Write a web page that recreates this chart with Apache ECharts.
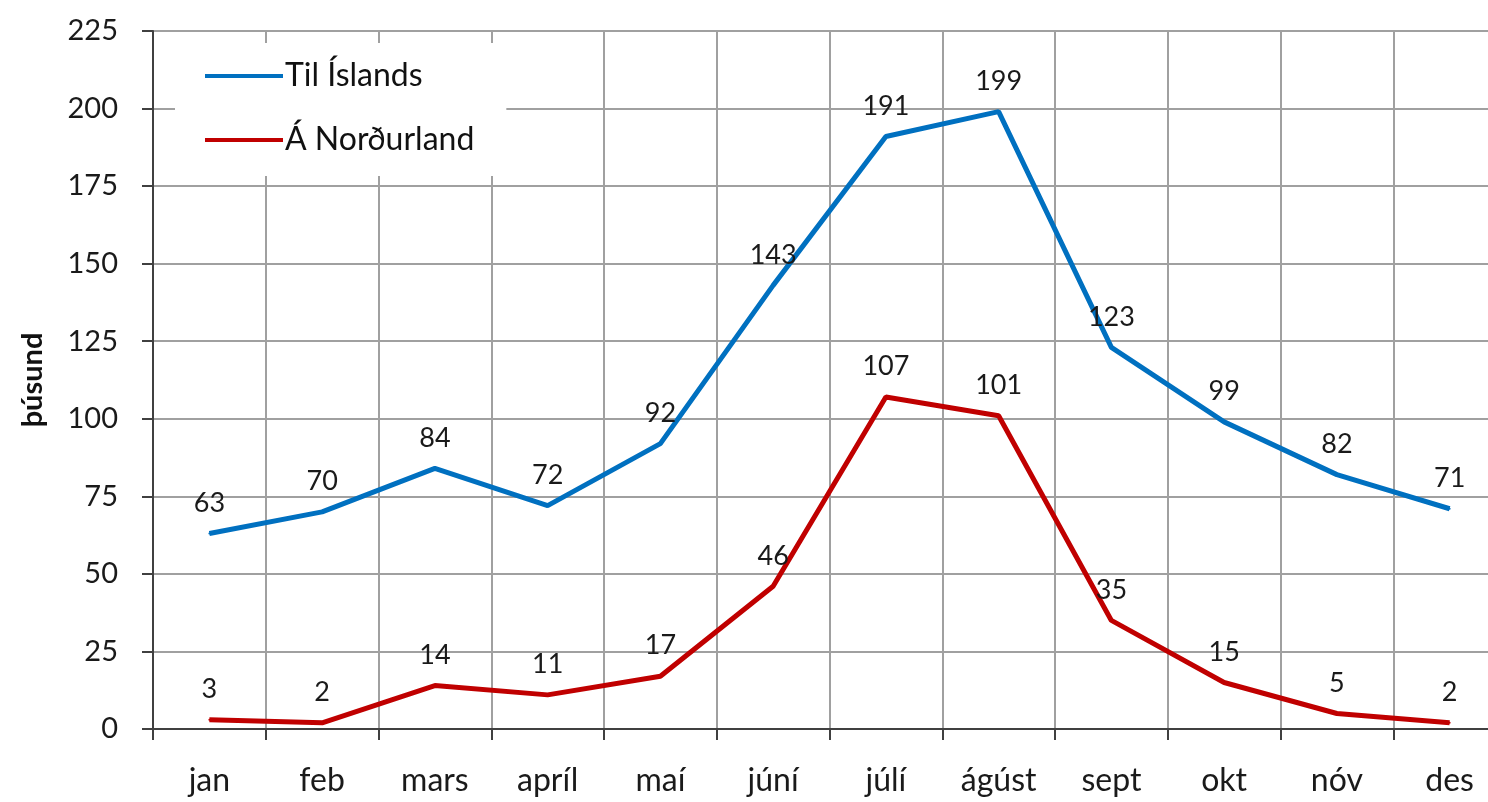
<!DOCTYPE html>
<html>
<head>
<meta charset="utf-8">
<script src="https://cdn.jsdelivr.net/npm/echarts@6/dist/echarts.min.js"></script>
<style>
  html, body { margin: 0; padding: 0; background: #fff; overflow: hidden; }
  #chart { width: 1530px; height: 802px; }
</style>
</head>
<body>
<div id="chart"></div>
<script>
// months
var months = ['jan', 'feb', 'mars', 'apríl', 'maí', 'júní', 'júlí', 'ágúst', 'sept', 'okt', 'nóv', 'des'];
// thousands of visitors
var tilIslands = [63, 70, 84, 72, 92, 143, 191, 199, 123, 99, 82, 71];
var aNordurland = [3, 2, 14, 11, 17, 46, 107, 101, 35, 15, 5, 2];
var yTicks = { min: 0, max: 225, step: 25 };

var font = 'Lato, "Noto Sans", sans-serif';
var myChart = echarts.init(document.getElementById('chart'));

// line series with value labels above each point
function lineSeries(name, data, color) {
    return {
        name: name,
        type: 'line',
        data: data,
        showSymbol: true,
        symbol: 'circle',
        symbolSize: 2,
        color: color,
        lineStyle: { width: 5 },
        label: { show: true, position: 'top', distance: 16, fontSize: 27, color: '#1a1a1a' },
        z: 3
    };
}

// the chart runs past the right edge of the picture, as in the original
var option = {
    animation: false,
    textStyle: { fontFamily: font },
    grid: { left: 153, top: 31, width: 1353, bottom: 73, containLabel: false },
    legend: {
        orient: 'vertical',
        left: 175,
        top: 43,
        padding: [17, 32, 20, 30],
        itemGap: 32,
        itemWidth: 78,
        itemHeight: 4,
        icon: 'rect',
        backgroundColor: '#fff',
        textStyle: { fontSize: 32, color: '#111', padding: [0, 0, 0, -3], lineHeight: 30 },
        data: ['Til Íslands', 'Á Norðurland']
    },
    xAxis: {
        type: 'category',
        data: months,
        boundaryGap: true,
        axisLine: { lineStyle: { color: '#404040', width: 2 } },
        axisTick: { show: true, length: 11, lineStyle: { color: '#404040', width: 2 } },
        axisLabel: { fontSize: 32, color: '#1a1a1a', margin: 36 },
        splitLine: { show: true, interval: 0, lineStyle: { color: '#a0a0a0', width: 2 } }
    },
    yAxis: {
        type: 'value',
        min: yTicks.min,
        max: yTicks.max,
        interval: yTicks.step,
        name: 'þúsund',
        nameLocation: 'middle',
        nameGap: 106,
        nameTextStyle: { fontSize: 29, fontWeight: 'bold', color: '#111' },
        axisLine: { show: true, lineStyle: { color: '#404040', width: 2 } },
        axisTick: { show: true, length: 11, lineStyle: { color: '#404040', width: 2 } },
        axisLabel: { fontSize: 29, color: '#1a1a1a', margin: 35 },
        splitLine: { show: true, lineStyle: { color: '#a0a0a0', width: 2 } }
    },
    series: [
        lineSeries('Til Íslands', tilIslands, '#0070C0'),
        lineSeries('Á Norðurland', aNordurland, '#C00000')
    ]
};

myChart.setOption(option);
</script>
</body>
</html>
